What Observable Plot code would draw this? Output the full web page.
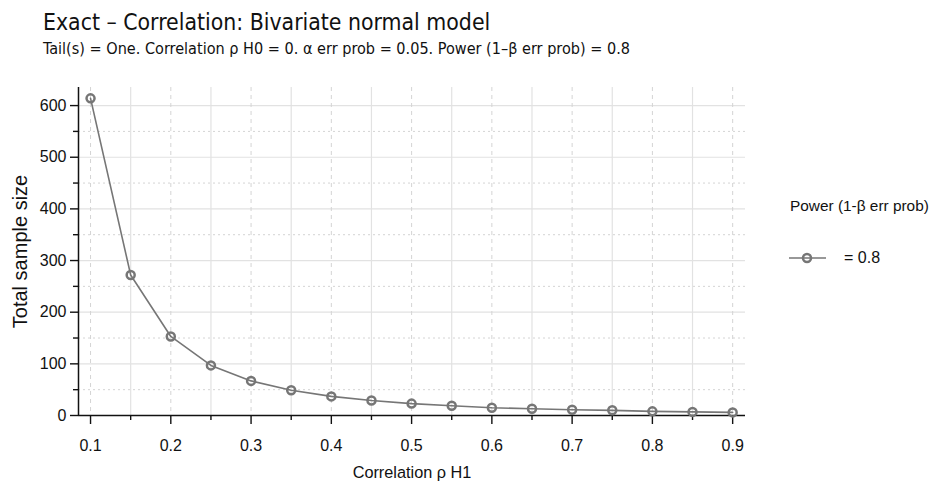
<!DOCTYPE html>
<html>
<head>
<meta charset="utf-8">
<script src="https://cdn.jsdelivr.net/npm/d3@7"></script>
<script src="https://cdn.jsdelivr.net/npm/@observablehq/plot@0.6"></script>
<style>
  body { margin: 0; background: #fff; }
  #page { position: relative; width: 930px; height: 490px; overflow: hidden; background: #fff; }
  .cond { font-family: "DejaVu Sans Condensed", "DejaVu Sans", sans-serif; font-stretch: condensed; color: #111; white-space: nowrap; line-height: 1; }
  .sans { font-family: "Liberation Sans", Arial, sans-serif; color: #111; white-space: nowrap; line-height: 1; }
  #title { position: absolute; left: 43px; top: 11px; font-size: 22.8px; }
  #subtitle { position: absolute; left: 43px; top: 41px; font-size: 16.1px; }
  #chart { position: absolute; left: 0; top: 70px; }
  #legend-title { position: absolute; left: 790px; top: 198px; font-size: 15.4px; }
  #legend-item { position: absolute; left: 788px; top: 248px; display: flex; align-items: center; height: 20px; }
  #legend-item span { font-size: 16px; margin-left: 16px; }
</style>
</head>
<body>
<div id="page">
  <div id="title" class="cond">Exact – Correlation: Bivariate normal model</div>
  <div id="subtitle" class="cond">Tail(s) = One. Correlation ρ H0 = 0. α err prob = 0.05. Power (1–β err prob) = 0.8</div>
  <div id="chart"></div>
  <div id="legend-title" class="sans">Power (1-β err prob)</div>
  <div id="legend-item" class="sans">
    <svg width="40" height="20">
      <line x1="1" y1="10" x2="38" y2="10" stroke="#767676" stroke-width="1.6"></line>
      <circle cx="19" cy="10" r="4" fill="none" stroke="#767676" stroke-width="2.5"></circle>
    </svg>
    <span>= 0.8</span>
  </div>
</div>
<script>
// Required total sample size per alternative correlation (power 0.8, one tail)
const rho = [0.1, 0.15, 0.2, 0.25, 0.3, 0.35, 0.4, 0.45, 0.5, 0.55, 0.6, 0.65, 0.7, 0.75, 0.8, 0.85, 0.9];
const totalN = [614, 272, 153, 97, 67, 49, 37, 29, 23, 19, 15, 13, 11, 10, 8, 7, 6];

// Axis ticks
const yMajor = [0, 100, 200, 300, 400, 500, 600];
const yMinor = [50, 150, 250, 350, 450, 550];
const xMajor = [0.1, 0.2, 0.3, 0.4, 0.5, 0.6, 0.7, 0.8, 0.9];
const xMinor = [0.15, 0.25, 0.35, 0.45, 0.55, 0.65, 0.75, 0.85];

const xLabel = "Correlation ρ H1";
const yLabel = "Total sample size";

const data = rho.map((r, i) => ({ rho: r, n: totalN[i] }));

const sans = '"Liberation Sans", Arial, sans-serif';
const lineGray = "#767676";
const noText = () => "";

const chart = Plot.plot({
  width: 930,
  height: 420,
  marginTop: 17,
  marginBottom: 75,
  marginLeft: 78,
  marginRight: 185,
  x: { domain: [0.085, 0.916] },
  y: { domain: [0, 635] },
  style: { fontFamily: sans, fontSize: "16px", color: "#111", background: "transparent" },
  marks: [
    // grid: solid at hundreds, dotted at fifties
    Plot.ruleY(yMajor.filter(d => d > 0), { stroke: "#e2e2e2", strokeWidth: 1.2 }),
    Plot.ruleY(yMinor, { stroke: "#d4d4d4", strokeDasharray: "2,3" }),
    // vertical grid: dashed at labelled ticks, solid in between
    Plot.ruleX(xMinor, { stroke: "#e2e2e2", strokeWidth: 1.2 }),
    Plot.ruleX(xMajor, { stroke: "#d4d4d4", strokeDasharray: "4,4" }),
    // tick marks (labels drawn separately below)
    Plot.axisY(yMajor, { tickSize: 8, tickFormat: noText, label: null, strokeWidth: 1.4 }),
    Plot.axisY(yMinor, { tickSize: 5, tickFormat: noText, label: null, strokeWidth: 1.4 }),
    Plot.axisX(xMajor, { tickSize: 9, tickFormat: noText, label: null, strokeWidth: 1.4 }),
    Plot.axisX(xMinor, { tickSize: 5, tickFormat: noText, label: null, strokeWidth: 1.4 }),
    Plot.ruleX([0.085], { stroke: "#111", strokeWidth: 1.5 }),
    Plot.ruleY([0], { stroke: "#111", strokeWidth: 1.5 }),
    // tick labels
    Plot.text(yMajor, { frameAnchor: "left", y: d => d, text: d => String(d), dx: -12, textAnchor: "end", lineAnchor: "middle", fontSize: 16 }),
    Plot.text(xMajor, { frameAnchor: "bottom", x: d => d, text: d => d.toFixed(1), dy: 30.5, textAnchor: "middle", lineAnchor: "middle", fontSize: 16 }),
    // axis titles
    Plot.text([xLabel], { frameAnchor: "bottom", lineAnchor: "middle", textAnchor: "middle", dy: 57, fontSize: 16.3 }),
    Plot.text([yLabel], { frameAnchor: "left", lineAnchor: "middle", textAnchor: "middle", dx: -58, rotate: -90, fontSize: 20 }),
    // series
    Plot.line(data, { x: "rho", y: "n", stroke: lineGray, strokeWidth: 1.6 }),
    Plot.dot(data, { x: "rho", y: "n", r: 4, fill: "none", stroke: lineGray, strokeWidth: 2.5 })
  ]
});

document.getElementById("chart").appendChild(chart);
</script>
</body>
</html>
